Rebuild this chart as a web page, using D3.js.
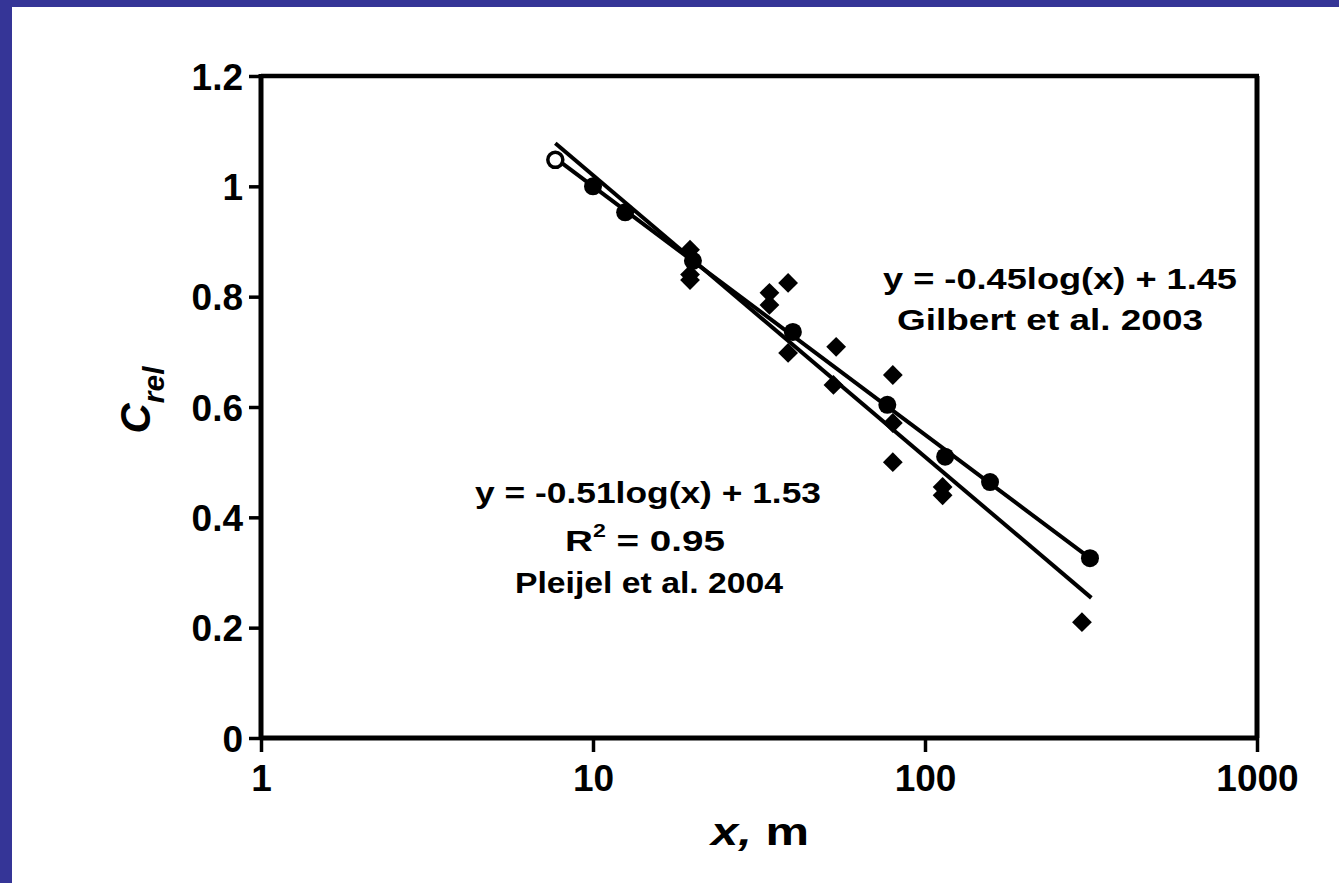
<!DOCTYPE html>
<html>
<head>
<meta charset="utf-8">
<script src="https://cdn.jsdelivr.net/npm/d3@7"></script>
<style>
  html, body { margin: 0; padding: 0; background: #ffffff; }
  svg { display: block; }
  text { font-family: "Liberation Sans", Arial, Helvetica, sans-serif; fill: #000; }
</style>
</head>
<body>
<script>
// ---------- data ----------
const yTicks = [0, 0.2, 0.4, 0.6, 0.8, 1, 1.2];
const yTickLabels = ["0", "0.2", "0.4", "0.6", "0.8", "1", "1.2"];
const xTicks = [1, 10, 100, 1000];
const xTickLabels = ["1", "10", "100", "1000"];

// Gilbert et al. 2003 (circles; first point open)
const gilbertX = [7.7, 10, 12.5, 20, 40, 77, 115, 157, 314];
const gilbertY = [1.048, 1.0, 0.953, 0.865, 0.736, 0.604, 0.51, 0.464, 0.326];
const gilbertOpen = [true, false, false, false, false, false, false, false, false];

// Pleijel et al. 2004 (diamonds)
const pleijelX = [19.6, 19.6, 19.6, 34, 34, 38.7, 38.7, 54, 53, 80, 80, 80, 113, 113, 297];
const pleijelY = [0.885, 0.84, 0.83, 0.807, 0.785, 0.825, 0.698, 0.709, 0.64, 0.658, 0.571, 0.5, 0.455, 0.44, 0.21];

// fitted lines (end points)
const gilbertLineX = [7.7, 314];
const gilbertLineY = [1.051, 0.326];
const pleijelLineX = [7.7, 317];
const pleijelLineY = [1.078, 0.254];

const gilbertLabel = ["y = -0.45log(x) + 1.45", "Gilbert et al. 2003"];
const pleijelLabel = ["y = -0.51log(x) + 1.53", "= 0.95", "Pleijel et al. 2004"];

// ---------- drawing ----------
const W = 1339, H = 883;
const svg = d3.select("body").append("svg").attr("width", W).attr("height", H);

svg.append("rect").attr("width", W).attr("height", H).attr("fill", "#ffffff");
// blue frame (left and top)
svg.append("rect").attr("x", 0).attr("y", 0).attr("width", 12).attr("height", H).attr("fill", "#353597");
svg.append("rect").attr("x", 0).attr("y", 0).attr("width", W).attr("height", 7).attr("fill", "#353597");

const x = d3.scaleLog().domain([1, 1000]).range([261, 1257]);
const y = d3.scaleLinear().domain([0, 1.2]).range([738, 76]);

// plot frame top/right
svg.append("line").attr("x1", x(1)).attr("x2", x(1000) + 2).attr("y1", y(1.2)).attr("y2", y(1.2))
  .attr("stroke", "#000").attr("stroke-width", 4.5);
svg.append("line").attr("x1", x(1000)).attr("x2", x(1000)).attr("y1", y(1.2)).attr("y2", y(0))
  .attr("stroke", "#000").attr("stroke-width", 5);

// axes
const yAxis = d3.axisLeft(y).tickValues(yTicks).tickSize(12).tickSizeOuter(0)
  .tickFormat((d, i) => yTickLabels[i]).tickPadding(6);
const gy = svg.append("g").attr("transform", `translate(${x(1)},0)`).call(yAxis);
const xAxis = d3.axisBottom(x).tickValues(xTicks).tickSize(14).tickSizeOuter(0)
  .tickFormat((d, i) => xTickLabels[i]).tickPadding(10);
const gx = svg.append("g").attr("transform", `translate(0,${y(0)})`).call(xAxis);

[gx, gy].forEach(g => {
  g.select(".domain").attr("stroke", "#000").attr("stroke-width", 5);
  g.selectAll(".tick line").attr("stroke", "#000").attr("stroke-width", 3.5);
  g.selectAll(".tick text").attr("font-size", 37).attr("font-weight", "bold")
    .attr("font-family", "'Liberation Sans', Arial, sans-serif").attr("fill", "#000");
});
gx.select(".domain").attr("d", `M${x(1)},0H${x(1000) + 2}`);
gy.select(".domain").attr("d", `M0,${y(0) + 2}V${y(1.2) - 2}`);
gx.selectAll(".tick text").attr("dy", "0.78em");
gy.selectAll(".tick text").attr("dy", "0.36em");

// fit lines
const line = d3.line().x(d => x(d[0])).y(d => y(d[1]));
svg.append("path").datum(gilbertLineX.map((v, i) => [v, gilbertLineY[i]]))
  .attr("d", line).attr("fill", "none").attr("stroke", "#000").attr("stroke-width", 4);
svg.append("path").datum(pleijelLineX.map((v, i) => [v, pleijelLineY[i]]))
  .attr("d", line).attr("fill", "none").attr("stroke", "#000").attr("stroke-width", 4);

// diamonds
const diamond = d3.symbol().type(d3.symbolDiamond2).size(250);
svg.append("g").selectAll("path").data(pleijelX.map((v, i) => [v, pleijelY[i]]))
  .join("path").attr("d", diamond)
  .attr("transform", d => `translate(${x(d[0])},${y(d[1])})`)
  .attr("fill", "#000");

// circles
svg.append("g").selectAll("circle").data(gilbertX.map((v, i) => [v, gilbertY[i], gilbertOpen[i]]))
  .join("circle")
  .attr("cx", d => x(d[0])).attr("cy", d => y(d[1]))
  .attr("r", d => d[2] ? 7.5 : 9)
  .attr("fill", d => d[2] ? "#fff" : "#000")
  .attr("stroke", "#000").attr("stroke-width", d => d[2] ? 3.5 : 0);

// annotations
function fit(t, w) { t.attr("textLength", w).attr("lengthAdjust", "spacingAndGlyphs"); return t; }
const ann = svg.append("g").attr("font-weight", "bold").attr("font-size", 30).attr("text-anchor", "middle");
fit(ann.append("text").attr("x", 1060).attr("y", 289).text(gilbertLabel[0]), 354);
fit(ann.append("text").attr("x", 1050).attr("y", 330).text(gilbertLabel[1]), 306);
fit(ann.append("text").attr("x", 648).attr("y", 503).text(pleijelLabel[0]), 346);
const r2 = ann.append("text").attr("x", 645).attr("y", 551);
r2.append("tspan").text("R");
r2.append("tspan").attr("font-size", 18).attr("dy", -14).text("2");
r2.append("tspan").attr("dy", 14).text(" " + pleijelLabel[1]);
fit(r2, 160);
fit(ann.append("text").attr("x", 649).attr("y", 593).text(pleijelLabel[2]), 268);

// axis titles
const xt = svg.append("text").attr("x", 760).attr("y", 845).attr("text-anchor", "middle")
  .attr("font-size", 38).attr("font-weight", "bold");
xt.append("tspan").attr("font-style", "italic").text("x,");
xt.append("tspan").text(" m");
fit(xt, 98);

const yt = svg.append("text").attr("transform", "translate(150,400) rotate(-90)")
  .attr("text-anchor", "middle").attr("font-weight", "bold").attr("font-style", "italic");
yt.append("tspan").attr("font-size", 42).text("C");
yt.append("tspan").attr("font-size", 30).attr("dy", 14).text("rel");
</script>
</body>
</html>
